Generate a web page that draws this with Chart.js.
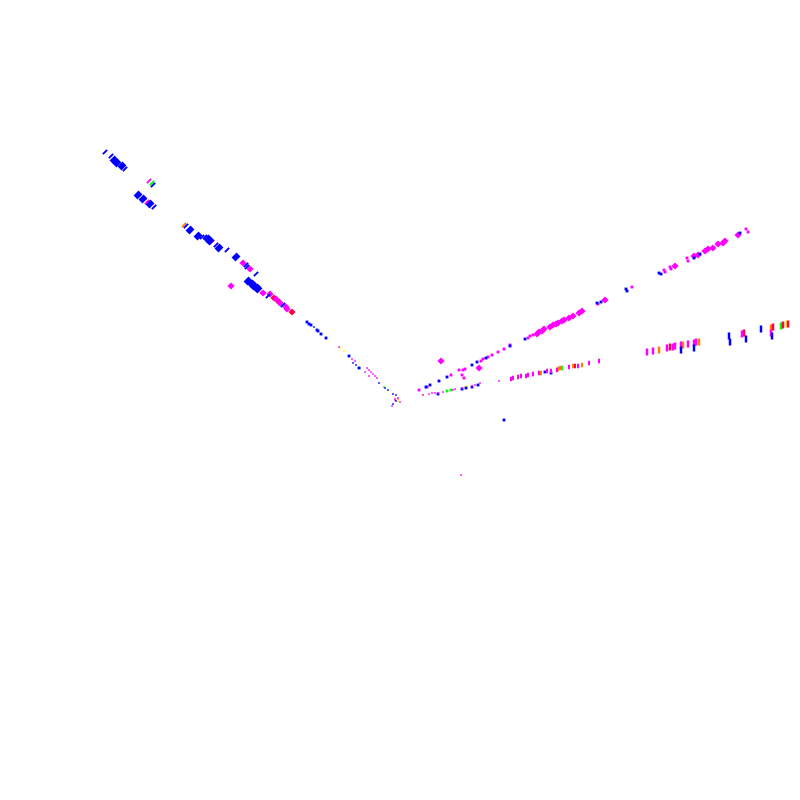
<!DOCTYPE html>
<html>
<head>
<meta charset="utf-8">
<title>Scatter</title>
<script src="https://cdn.jsdelivr.net/npm/chart.js@4"></script>
<style>
html, body { margin: 0; padding: 0; background: #fff; }
canvas { display: block; }
</style>
</head>
<body>
<canvas id="myChart" width="800" height="800"></canvas>
<script>
// Values, [x, y]. The reference has no axes, so the units are its own 0-800 frame.

// Left arm
var leftBlueDash = [[105,152],[111,156],[125,169],[153,185],[154,207],[186,226],[202,237],[205,237],[216,245],[227,250],[246,265],[247,267],[256,274],[268,296],[283,305]];
var leftBlueBlob = [[114,160],[117,163],[122,166],[138,195],[143,199],[150,204],[190,230],[198,236],[208,239],[210,241],[219,248],[236,257],[248,281],[252,284],[254,286],[257,288],[258,289]];
var leftBlueTail = [[307,322],[309,324],[311,325],[317,330],[318,331],[321,334],[326,338],[349,356],[359,368]];
var leftMagentaDash = [[149,181],[147,202],[212,242]];
var leftMagentaBlob = [[243,263],[250,269],[231,286],[263,293],[270,294],[276,299],[280,303],[286,307],[287,309]];
var leftRedBlob = [[274,298],[279,302],[292,312]];
var leftGreenDash = [[152,183]];
var leftOrangeDash = [[184,225]];

// Left arm close to the centre
var tailBlue = [[314,327],[353,363],[356,365],[379,383],[385,388],[388,390],[393,394],[396,395],[396,401],[393,404]];
var tailMagenta = [[339,347],[352,359],[355,361],[367,368],[369,370],[371,372],[373,374],[375,376],[377,378],[365,372],[369,376],[395,399],[398,398],[395,400],[400,402],[392,406],[461,475]];
var tailYellow = [[340,348],[344,351],[398,401]];
var tailGreen = [[360,368],[384,387]];
var tailOrange = [[398,399]];
var strayBlue = [[504,420]];

// Upper right arm
var upperBlue = [[426,387],[430,385],[439,381],[447,377],[472,365],[477,362],[486,358],[510,346],[525,339],[597,303],[601,302],[626,289],[627,291],[659,273],[661,274],[694,258],[700,254],[740,233]];
var upperMagenta = [[419,390],[427,387],[451,375],[459,370],[463,370],[465,369],[462,375],[464,378],[481,361],[483,359],[488,357],[492,355],[498,352],[504,349],[510,345],[528,338],[530,336],[533,335],[598,304],[632,287],[664,270],[665,272],[670,267],[671,269],[687,258],[688,261],[746,229],[748,232]];
var upperMagentaBlob = [[441,361],[479,368],[537,334],[539,332],[542,331],[544,329],[550,327],[553,325],[556,324],[558,323],[562,321],[564,320],[569,318],[573,316],[579,313],[582,311],[605,300],[675,266],[694,256],[698,255],[705,251],[708,249],[713,248],[718,244],[723,243],[725,241],[738,235]];

// Lower right arm
var lowerMagenta = [[429,394],[432,393],[435,393],[438,393],[443,392],[453,390],[455,389],[462,388],[472,386],[475,385],[480,383],[499,381]];
var lowerMagentaFar = [[511,379],[513,378],[518,377],[521,376],[526,376],[528,375],[533,374],[539,373],[547,371],[551,371],[557,370],[569,367],[578,366],[589,363],[599,361]];
var lowerBlue = [[438,394],[462,389],[466,388],[472,387],[478,385],[545,372],[551,373]];
var lowerGreen = [[447,391],[451,390]];
var lowerGreenFar = [[562,368]];
var lowerOrangeFar = [[541,373],[558,369],[560,368],[573,366],[582,365]];
var lowerRed = [[423,395]];
var lowerRedFar = [[575,366]];
var lowerYellow = [[466,387]];

// Bars at the far right
var barMagenta = [[647,352],[653,351],[667,348],[673,347],[675,346],[681,345],[688,344],[694,343],[696,342],[771,333],[742,334]];
var barBlue = [[681,350],[694,348],[729,336],[730,342],[746,339],[761,329],[772,336]];
var barRed = [[670,347],[744,333],[773,327],[783,325],[788,324]];
var barOrange = [[659,350],[683,345],[699,342],[771,328]];
var barGreen = [[781,326]];
var barYellow = [[786,324]];

var BLUE = '#0000ff', MAGENTA = '#ff00ff', RED = '#ff0040', GREEN = '#00ff00', ORANGE = '#ff8000', YELLOW = '#ffff00';

// How each kind of mark is drawn
var dash = { pointStyle: 'line', pointRotation: -45, pointRadius: 3, pointBorderWidth: 2 };
var blob = { pointStyle: 'line', pointRotation: -45, pointRadius: 3.5, pointBorderWidth: 5.5 };
var dot = { pointStyle: 'rect', pointRadius: 1.2, pointBorderWidth: 0 };
var spot = { pointStyle: 'rect', pointRadius: 2, pointBorderWidth: 0 };
var round = { pointStyle: 'rectRot', pointRadius: 3.6, pointBorderWidth: 0 };
var tick = { pointStyle: 'line', pointRotation: 90, pointRadius: 2.2, pointBorderWidth: 2 };
var bar = { pointStyle: 'line', pointRotation: 90, pointRadius: 3.5, pointBorderWidth: 2.5 };

function series(points, color, kind) {
    var ds = {
        data: points.map(function(p) { return { x: p[0], y: p[1] }; }),
        showLine: false,
        backgroundColor: color,
        borderColor: color,
        clip: false
    };
    return Object.assign(ds, kind);
}

var datasets = [
    series(leftBlueDash, BLUE, dash),
    series(leftBlueBlob, BLUE, blob),
    series(leftBlueTail, BLUE, spot),
    series(leftMagentaDash, MAGENTA, dash),
    series(leftMagentaBlob, MAGENTA, round),
    series(leftRedBlob, RED, round),
    series(leftGreenDash, GREEN, dash),
    series(leftOrangeDash, ORANGE, dash),
    series(tailBlue, BLUE, dot),
    series(tailMagenta, MAGENTA, dot),
    series(tailYellow, YELLOW, dot),
    series(tailGreen, GREEN, dot),
    series(tailOrange, ORANGE, dot),
    series(strayBlue, BLUE, spot),
    series(upperBlue, BLUE, spot),
    series(upperMagenta, MAGENTA, spot),
    series(upperMagentaBlob, MAGENTA, round),
    series(lowerMagenta, MAGENTA, dot),
    series(lowerMagentaFar, MAGENTA, tick),
    series(lowerBlue, BLUE, spot),
    series(lowerGreen, GREEN, spot),
    series(lowerGreenFar, GREEN, tick),
    series(lowerOrangeFar, ORANGE, tick),
    series(lowerRed, RED, dot),
    series(lowerRedFar, RED, tick),
    series(lowerYellow, YELLOW, spot),
    series(barBlue, BLUE, bar),
    series(barMagenta, MAGENTA, bar),
    series(barRed, RED, bar),
    series(barOrange, ORANGE, bar),
    series(barGreen, GREEN, bar),
    series(barYellow, YELLOW, bar)
];

var ctx = document.getElementById('myChart').getContext('2d');
var myChart = new Chart(ctx, {
    type: 'scatter',
    data: { datasets: datasets },
    options: {
        responsive: false,
        animation: false,
        layout: { padding: 0, autoPadding: false },
        plugins: { legend: { display: false }, tooltip: { enabled: false } },
        scales: {
            x: { type: 'linear', min: 0, max: 800, display: false },
            y: { type: 'linear', min: 0, max: 800, reverse: true, display: false }
        }
    }
});
</script>
</body>
</html>
